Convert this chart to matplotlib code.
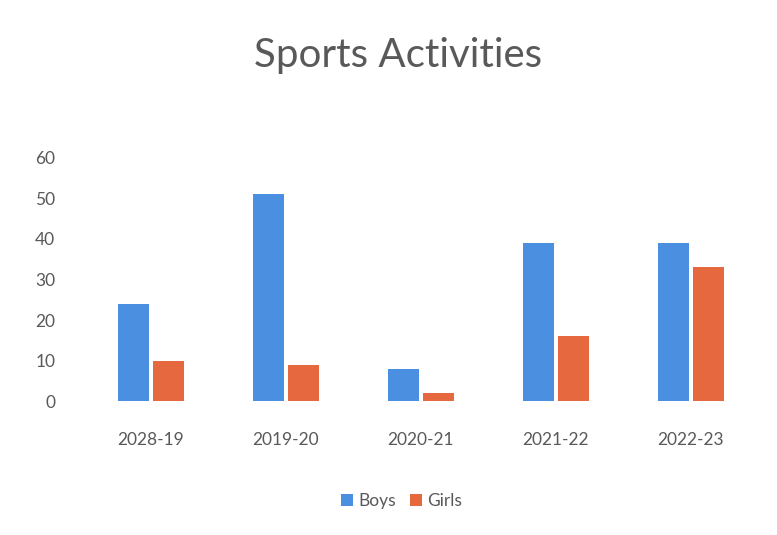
import numpy as np
import matplotlib.pyplot as plt
from matplotlib.patches import Patch

# ---------- data ----------
years = ['2028-19', '2019-20', '2020-21', '2021-22', '2022-23']
boys = [24, 51, 8, 39, 39]
girls = [10, 9, 2, 16, 33]
yticks = [0, 10, 20, 30, 40, 50, 60]

# ---------- style ----------
plt.rcParams['font.family'] = ['Lato', 'DejaVu Sans']
c_boys = '#4a8fe0'
c_girls = '#e5683f'
c_text = '#595959'

fig = plt.figure(figsize=(7.77, 5.35), dpi=100)
fig.patch.set_facecolor('white')
ax = fig.add_axes([0.107, 0.25, 0.869, 0.455])

x = np.arange(len(years))
w = 0.23
gap = 0.03
ax.bar(x - (w + gap) / 2, boys, width=w, color=c_boys, label='Boys', zorder=2)
ax.bar(x + (w + gap) / 2, girls, width=w, color=c_girls, label='Girls', zorder=2)

ax.set_xlim(-0.5, len(years) - 0.5)
ax.set_ylim(0, 60)
ax.set_yticks(yticks)
ax.set_xticks(x)
ax.set_xticklabels(years)
ax.tick_params(axis='both', length=0, labelsize=12.5, colors=c_text)
ax.tick_params(axis='x', pad=22)
ax.tick_params(axis='y', pad=20)
for spine in ax.spines.values():
    spine.set_visible(False)

fig.text(0.512, 0.897, 'Sports Activities', ha='center', va='center',
         fontsize=29, color=c_text)

handles = [Patch(facecolor=c_boys, label='Boys'),
           Patch(facecolor=c_girls, label='Girls')]
fig.legend(handles=handles, loc='center', bbox_to_anchor=(0.517, 0.064),
           ncol=2, frameon=False, fontsize=12.5, labelcolor=c_text,
           handlelength=0.7, handleheight=0.7, handletextpad=0.3,
           columnspacing=0.8)

plt.savefig('out.png', dpi=100, facecolor='white')
